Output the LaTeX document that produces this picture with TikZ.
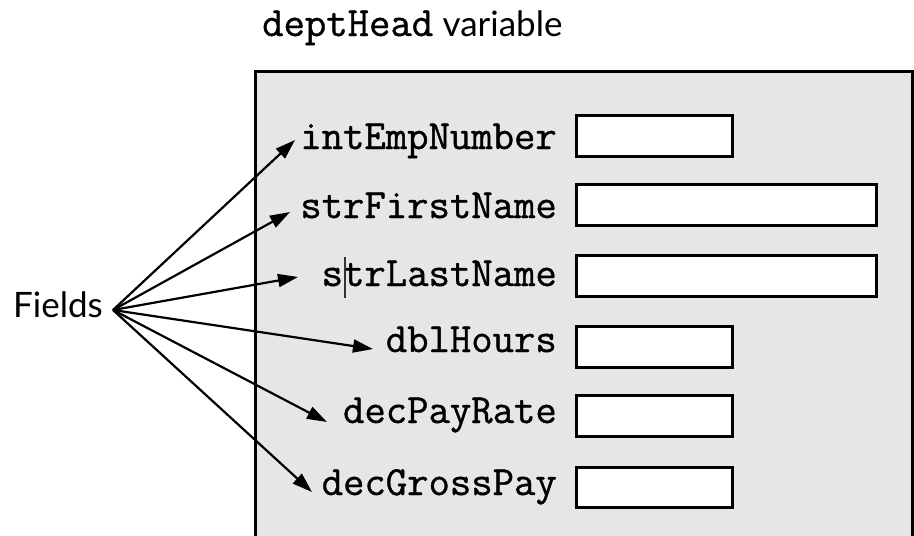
\documentclass[tikz,border=0pt]{standalone}
\usepackage{fontspec}
\setmainfont{Lato}
\newfontfamily\codefont{Latin Modern Mono}[FakeBold=0.9]
\usetikzlibrary{arrows.meta}
\definecolor{panel}{HTML}{E6E6E6}
\tikzset{
  code/.style={font=\codefont\fontsize{41.5}{44}\selectfont, inner sep=0pt, anchor=base east},
  sanslbl/.style={font=\fontsize{35}{40}\selectfont, inner sep=0pt},
  valbox/.style={draw=black, fill=white, line width=3pt},
  fieldarrow/.style={line width=2.2pt, -{Triangle[length=20pt,width=13pt]}}
}
\begin{document}
\begin{tikzpicture}[x=1pt,y=-1pt]
\useasboundingbox (0,0) rectangle (914,536);
\clip (0,0) rectangle (914,536);
\fill[white] (0,0) rectangle (914,536);
% title
\node[code, anchor=base west] (title) at (262,36) {deptHead};
\node[sanslbl, anchor=base west] (titlevar) at (title.base east) {\hspace{9pt}variable};
% panel
\draw[fill=panel, line width=3pt] (255,71) rectangle (912,560);
% value boxes
\draw[valbox] (576,115) rectangle (732,156);
\draw[valbox] (576,184) rectangle (876,225);
\draw[valbox] (576,255) rectangle (876,296);
\draw[valbox] (576,326) rectangle (732,367);
\draw[valbox] (576,395) rectangle (732,436);
\draw[valbox] (576,467) rectangle (732,507);
% labels
\node[code] (l1) at (557,149) {intEmpNumber};
\node[code] (l2) at (557,218) {strFirstName};
\node[code] (l3) at (557,286) {strLastName};
\node[code] (l4) at (557,352) {dblHours};
\node[code] (l5) at (557,423) {decPayRate};
\node[code] (l6) at (557,495) {decGrossPay};
% cursor mark
\draw[line width=1.2pt, black!80] (345,257) -- (345,298);
% Fields
\node[sanslbl, anchor=base east] (fields) at (103,317) {Fields};
\coordinate (o) at (113,310);
\coordinate (t1) at (295,140);
\coordinate (t2) at (290,212);
\coordinate (t3) at (298,277);
\coordinate (t4) at (373,349);
\coordinate (t5) at (327,422);
\coordinate (t6) at (312,492);
\foreach \t in {t1,t2,t3,t4,t5,t6} \draw[fieldarrow] (o) -- (\t);
\end{tikzpicture}
\end{document}
